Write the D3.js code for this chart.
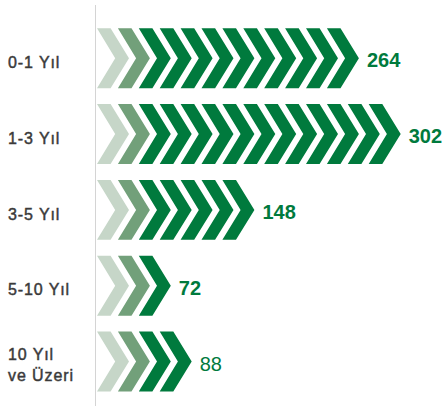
<!DOCTYPE html>
<html>
<head>
<meta charset="utf-8">
<script src="https://cdn.jsdelivr.net/npm/d3@7"></script>
<style>
  html, body { margin: 0; padding: 0; background: #fff; }
  svg { display: block; }
</style>
</head>
<body>
<svg id="chart" width="445" height="406"></svg>
<script>
// ---- data ----
const categories = [["0-1 Yıl"], ["1-3 Yıl"], ["3-5 Yıl"], ["5-10 Yıl"], ["10 Yıl", "ve Üzeri"]];
const categoryKeys = ["0-1", "1-3", "3-5", "5-10", "10+"];
const values = [264, 302, 148, 72, 88];
const unitPerChevron = 22;

// ---- layout ----
const W = 445, H = 406;
const svg = d3.select("#chart");
const colors = { light: "#c6d6c8", mid: "#72a07a", dark: "#007a3d" };

const y = d3.scaleBand()
  .domain(categoryKeys)
  .range([28.3, 391.5])
  .paddingInner(0.21)
  .paddingOuter(0);

const x = d3.scaleLinear()
  .domain([0, unitPerChevron])
  .range([97, 97 + 20.9]);

const h = y.bandwidth();
const tipW = 32, thick = 13.6, notch = 18.2;

function chevronPath(x0, y0) {
  return `M${x0},${y0} L${x0 + thick},${y0} L${x0 + tipW},${y0 + h / 2} L${x0 + thick},${y0 + h} L${x0},${y0 + h} L${x0 + notch},${y0 + h / 2} Z`;
}

// axis line
svg.append("line")
  .attr("x1", 95.5).attr("x2", 95.5)
  .attr("y1", 5).attr("y2", H)
  .attr("stroke", "#d4d4d4").attr("stroke-width", 1);

const rows = svg.selectAll("g.row")
  .data(values.map((v, i) => ({ v, i, key: categoryKeys[i], label: categories[i] })))
  .join("g").attr("class", "row");

rows.each(function (d) {
  const g = d3.select(this);
  const n = Math.round(d.v / unitPerChevron);
  const y0 = y(d.key);
  const idx = d3.range(n);
  g.selectAll("path")
    .data(idx)
    .join("path")
    .attr("d", k => chevronPath(x(k * unitPerChevron), y0))
    .attr("fill", k => k === 0 ? colors.light : (k === 1 ? colors.mid : colors.dark));

  // value label
  g.append("text")
    .attr("x", x((n - 1) * unitPerChevron) + tipW + 8)
    .attr("y", y0 + h / 2 + 9)
    .attr("font-family", "Liberation Sans, Arial, Helvetica, sans-serif")
    .attr("font-size", 20)
    .attr("font-weight", d.i === 4 ? "normal" : "bold")
    .attr("fill", colors.dark)
    .text(d.v);

  // category label
  const lines = d.label;
  const lh = 21;
  const baseY = y0 + h / 2 + 9.7 - (lines.length - 1) * lh / 2 - (lines.length > 1 ? 0.5 : 0);
  const t = g.append("text")
    .attr("font-family", "Liberation Sans, Arial, Helvetica, sans-serif")
    .attr("font-size", 16)
    .attr("font-weight", "normal")
    .attr("letter-spacing", 0.9)
    .attr("fill", "#3a3a3a")
    .attr("stroke", "#3a3a3a")
    .attr("stroke-width", 0.45);
  lines.forEach((ln, j) => {
    t.append("tspan").attr("x", 8).attr("y", baseY + j * lh).text(ln);
  });
});
</script>
</body>
</html>
